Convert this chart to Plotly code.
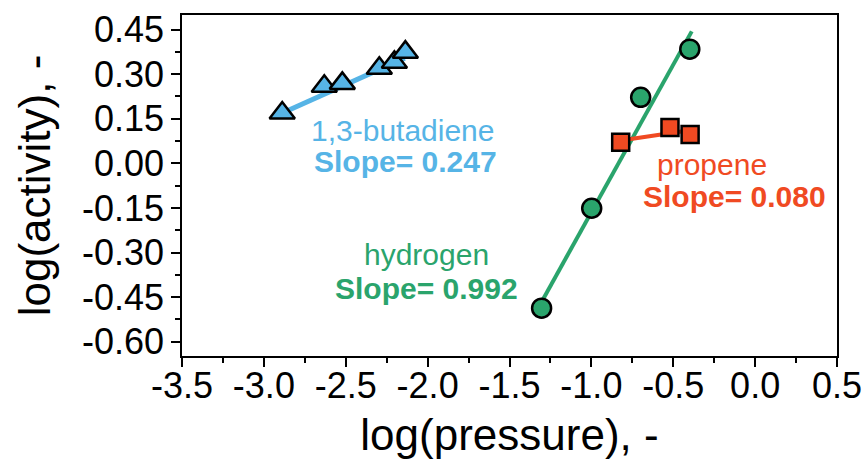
import plotly.graph_objects as go

# ---------------- data ----------------
butadiene_x = [-2.888, -2.631, -2.521, -2.295, -2.203, -2.136]
butadiene_y = [0.169, 0.259, 0.269, 0.320, 0.340, 0.374]
butadiene_fit_x = [-2.86, -2.14]
butadiene_fit_y = [0.176, 0.354]

hydrogen_x = [-1.304, -0.998, -0.699, -0.399]
hydrogen_y = [-0.487, -0.151, 0.222, 0.384]
hydrogen_fit_x = [-1.30, -0.387]
hydrogen_fit_y = [-0.462, 0.444]

propene_x = [-0.821, -0.520, -0.397]
propene_y = [0.071, 0.121, 0.097]
propene_fit_x = [-0.821, -0.45]
propene_fit_y = [0.077, 0.107]

x_tickvals = [-3.5, -3.0, -2.5, -2.0, -1.5, -1.0, -0.5, 0.0, 0.5]
x_ticktext = ["-3.5", "-3.0", "-2.5", "-2.0", "-1.5", "-1.0", "-0.5", "0.0", "0.5"]
y_tickvals = [0.45, 0.30, 0.15, 0.00, -0.15, -0.30, -0.45, -0.60]
y_ticktext = ["0.45", "0.30", "0.15", "0.00", "-0.15", "-0.30", "-0.45", "-0.60"]

labels = [
    ("1,3-butadiene", -2.149, 0.111, False, "blue"),
    ("Slope= 0.247", -2.136, 0.007, True, "blue"),
    ("hydrogen", -2.008, -0.308, False, "green"),
    ("Slope= 0.992", -2.008, -0.422, True, "green"),
    ("propene", -0.261, -0.003, False, "orange"),
    ("Slope= 0.080", -0.127, -0.110, True, "orange"),
]

# ---------------- style ----------------
BLUE = "#56B4E6"
GREEN = "#2AA46C"
ORANGE = "#F04A22"
COLORS = {"blue": BLUE, "green": GREEN, "orange": ORANGE}
FONT = "Liberation Sans, Arial, sans-serif"

fig = go.Figure()

fig.add_trace(go.Scatter(x=butadiene_fit_x, y=butadiene_fit_y, mode="lines",
                         line=dict(color=BLUE, width=5), showlegend=False, hoverinfo="skip"))
fig.add_trace(go.Scatter(x=hydrogen_fit_x, y=hydrogen_fit_y, mode="lines",
                         line=dict(color=GREEN, width=4), showlegend=False, hoverinfo="skip"))
fig.add_trace(go.Scatter(x=propene_fit_x, y=propene_fit_y, mode="lines",
                         line=dict(color=ORANGE, width=4), showlegend=False, hoverinfo="skip"))

fig.add_trace(go.Scatter(x=butadiene_x, y=butadiene_y, mode="markers",
                         marker=dict(symbol="triangle-up", size=22, color=BLUE,
                                     line=dict(color="black", width=2.5)),
                         showlegend=False))
fig.add_trace(go.Scatter(x=hydrogen_x, y=hydrogen_y, mode="markers",
                         marker=dict(symbol="circle", size=19, color=GREEN,
                                     line=dict(color="black", width=2.5)),
                         showlegend=False))
fig.add_trace(go.Scatter(x=propene_x, y=propene_y, mode="markers",
                         marker=dict(symbol="square", size=17, color=ORANGE,
                                     line=dict(color="black", width=2.5)),
                         showlegend=False))

for text, x, y, bold, c in labels:
    fig.add_annotation(x=x, y=y, xref="x", yref="y", showarrow=False,
                       text=f"<b>{text}</b>" if bold else text,
                       font=dict(family=FONT, size=30, color=COLORS[c]),
                       xanchor="center", yanchor="middle")

axis_common = dict(showline=True, linecolor="black", linewidth=1.5, mirror=True,
                   ticks="outside", tickcolor="black", tickwidth=1.5, ticklen=9,
                   showgrid=False, zeroline=False,
                   tickfont=dict(family=FONT, size=36, color="black"))

fig.update_xaxes(range=[-3.5, 0.5], tickmode="array", tickvals=x_tickvals, ticktext=x_ticktext,
                 ticklabelstandoff=-12,
                 minor=dict(ticks="outside", ticklen=5, tickcolor="black", tickwidth=1.5,
                            tick0=-3.5, dtick=0.25),
                 title=dict(text="log(pressure), -", font=dict(family=FONT, size=44, color="black"),
                            standoff=14),
                 **axis_common)
fig.update_yaxes(range=[-0.648, 0.499], tickmode="array", tickvals=y_tickvals, ticktext=y_ticktext,
                 minor=dict(ticks="outside", ticklen=5, tickcolor="black", tickwidth=1.5,
                            tick0=0, dtick=0.075),
                 title=dict(text="log(activity), -", font=dict(family=FONT, size=44, color="black"),
                            standoff=18),
                 **axis_common)

fig.update_layout(width=864, height=460, margin=dict(l=182, r=27, t=15, b=104, autoexpand=False),
                  plot_bgcolor="white", paper_bgcolor="white")

fig.write_html("out.html")
